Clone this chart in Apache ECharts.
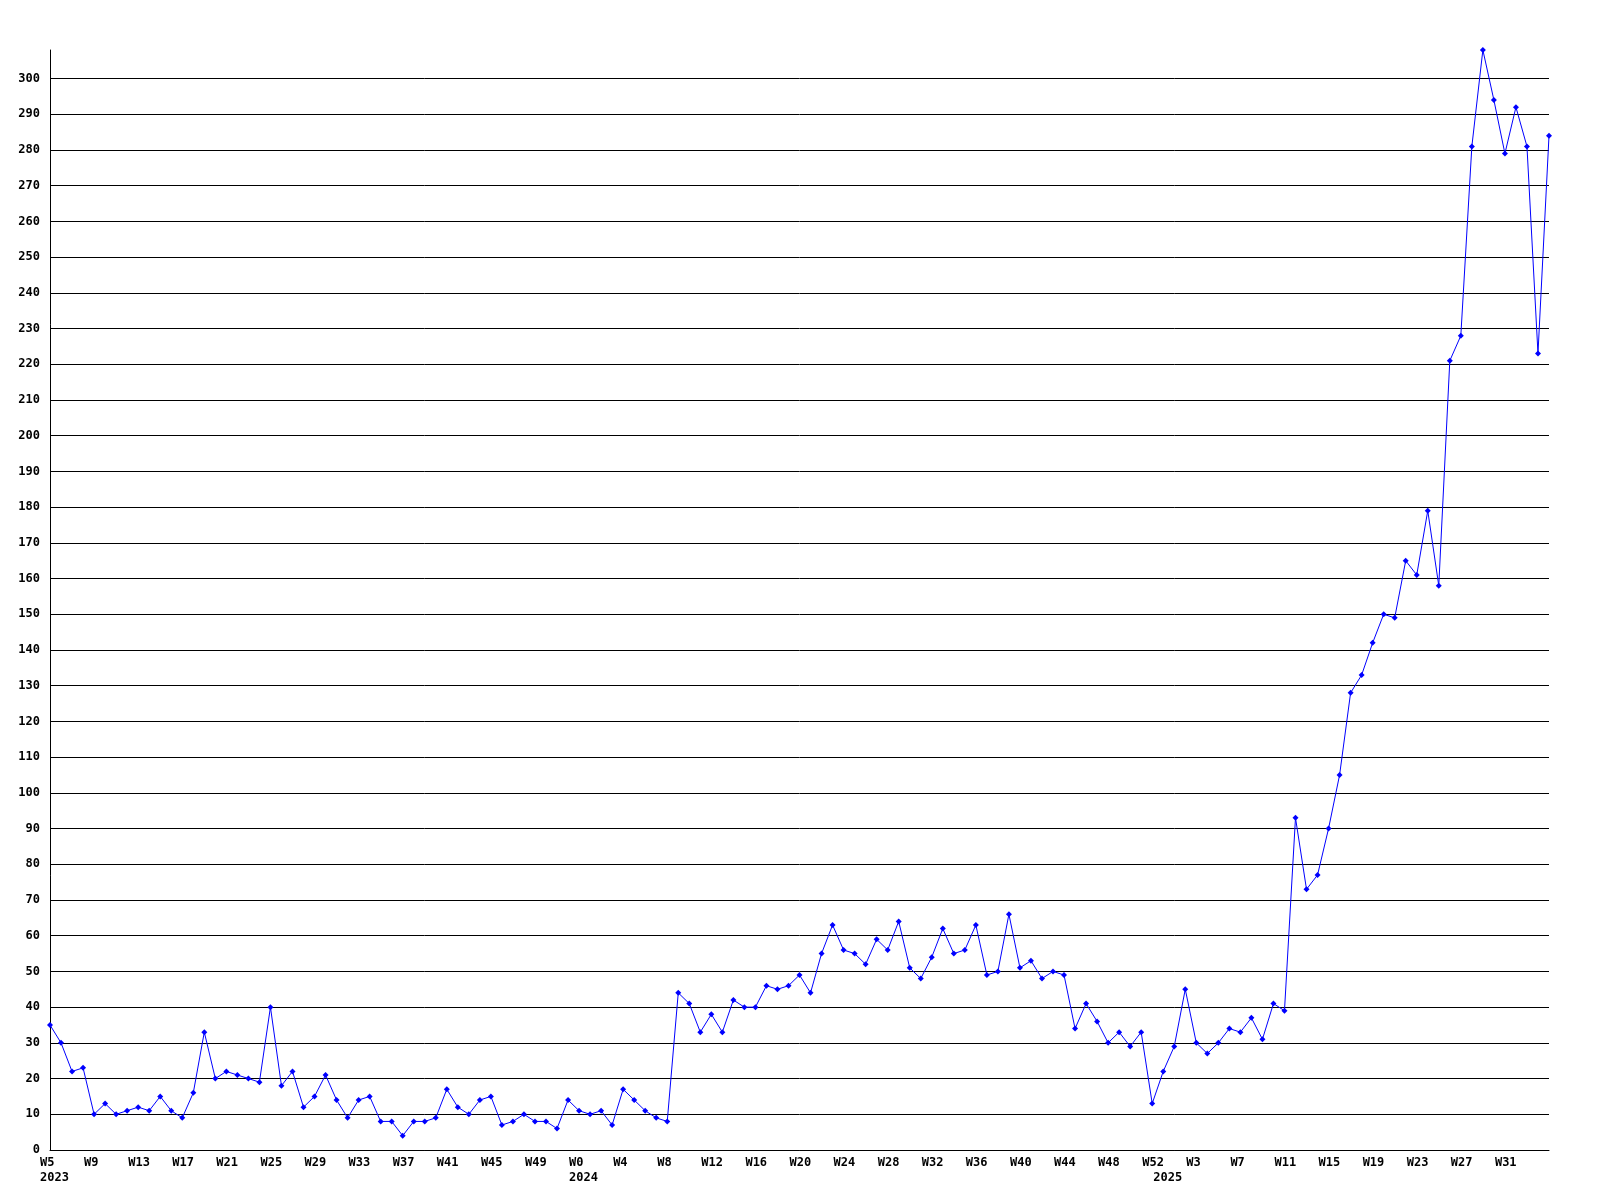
<!DOCTYPE html>
<html>
<head>
<meta charset="utf-8">
<style>
  html, body { margin: 0; padding: 0; background: #fff; }
  #chart { width: 1600px; height: 1200px; }
</style>
<script src="https://cdn.jsdelivr.net/npm/echarts@6/dist/echarts.min.js"></script>
</head>
<body>
<div id="chart"></div>
<script>
// Week ranges per year: [year, firstWeek, lastWeek]
const yearRanges = [
  [2023, 5, 52],
  [2024, 0, 52],
  [2025, 0, 35]
];

// Weekly values, in order
const values = [
  35,30,22,23,10,13,10,11,12,11,
  15,11,9,16,33,20,22,21,20,19,
  40,18,22,12,15,21,14,9,14,15,
  8,8,4,8,8,9,17,12,10,14,
  15,7,8,10,8,8,6,14,11,10,
  11,7,17,14,11,9,8,44,41,33,
  38,33,42,40,40,46,45,46,49,44,
  55,63,56,55,52,59,56,64,51,48,
  54,62,55,56,63,49,50,66,51,53,
  48,50,49,34,41,36,30,33,29,33,
  13,22,29,45,30,27,30,34,33,37,
  31,41,39,93,73,77,90,105,128,133,
  142,150,149,165,161,179,158,221,228,281,
  308,294,279,292,281,223,284
];

const yTicks = { min: 0, max: 308, interval: 10 };

// Build categories
const categories = [];
const weekLabels = [];
const yearStarts = {};
yearRanges.forEach(([y, a, b]) => {
  yearStarts[categories.length] = String(y);
  for (let w = a; w <= b; w++) {
    categories.push(y + '-W' + w);
    weekLabels.push('W' + w);
  }
});
const lastIdx = categories.length - 1;

const FONT = '"DejaVu Sans Mono", "Liberation Mono", monospace';

const chart = echarts.init(document.getElementById('chart'), null, { renderer: 'canvas' });
chart.setOption({
  animation: false,
  backgroundColor: '#ffffff',
  grid: { left: 50, right: 51, top: 50, bottom: 50, containLabel: false },
  xAxis: {
    type: 'category',
    data: categories,
    boundaryGap: false,
    axisLine: { show: true, lineStyle: { color: '#000', width: 1 } },
    axisTick: { show: false },
    splitLine: { show: false },
    axisLabel: {
      interval: function (i) { return (i % 4 === 0 && i < lastIdx) || (i in yearStarts); },
      formatter: function (val, i) {
        const wk = (i % 4 === 0 && i < lastIdx) ? weekLabels[i] : '';
        return (i in yearStarts) ? wk + '\n' + yearStarts[i] : wk;
      },
      align: 'left',
      verticalAlign: 'top',
      padding: [0, 0, 0, -10],
      margin: 5,
      lineHeight: 15,
      color: '#000',
      fontFamily: FONT,
      fontWeight: 'bold',
      fontSize: 12
    }
  },
  yAxis: {
    type: 'value',
    min: yTicks.min,
    max: yTicks.max,
    interval: yTicks.interval,
    axisLine: { show: true, lineStyle: { color: '#000', width: 1 } },
    axisTick: { show: false },
    splitLine: { show: true, showMaxLine: false, lineStyle: { color: '#000', width: 1 } },
    axisLabel: {
      showMaxLabel: false,
      formatter: function (v) { return (v % 10 === 0) ? String(v) : ''; },
      margin: 10,
      color: '#000',
      fontFamily: FONT,
      fontWeight: 'bold',
      fontSize: 12
    }
  },
  series: [{
    type: 'line',
    data: values,
    symbol: 'diamond',
    symbolSize: 6,
    showAllSymbol: true,
    clip: true,
    lineStyle: { color: '#0000ff', width: 1 },
    itemStyle: { color: '#0000ff' }
  }]
});
</script>
</body>
</html>
